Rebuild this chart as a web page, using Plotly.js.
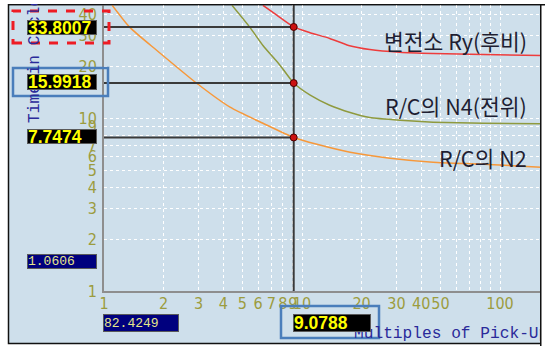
<!DOCTYPE html>
<html>
<head>
<meta charset="utf-8">
<script src="https://cdn.plot.ly/plotly-3.0.1.min.js"></script>
<style>
  html, body { margin: 0; padding: 0; background: #ffffff; }
  #chart { width: 545px; height: 346px; }
</style>
</head>
<body>
<div id="chart"></div>
<script>
// Time-current coordination: operating time (cycles) vs multiples of pick-up
const curveNames = ['변전소 Ry(후비)', 'R/C의 N4(전위)', 'R/C의 N2'];
const curveColors = ['#ee3c3c', '#8f9a3e', '#f7983a'];

const ryX = [6.35, 7.49, 9.0788, 10.9, 13.8, 17.2, 22.0, 31.2, 45.9, 82.1, 161];
const ryY = [45.1, 39.4, 33.8007, 31.4, 29.0, 26.4, 25.0, 24.1, 23.7, 23.4, 23.1];

const n4X = [4.43, 5.47, 6.35, 7.74, 9.0788, 11.0, 13.8, 17.5, 22.0, 31.3, 45.9, 82.1, 161];
const n4Y = [45.1, 33.5, 26.4, 20.3, 15.9918, 13.6, 11.9, 10.8, 10.1, 9.74, 9.5, 9.36, 9.3];

const n2X = [1.10, 1.35, 1.85, 2.95, 4.33, 6.35, 9.0788, 11.9, 17.5, 27.8, 45.9, 82.1, 161];
const n2Y = [45.1, 33.6, 24.7, 15.9, 11.6, 9.36, 7.7474, 7.07, 6.36, 5.87, 5.57, 5.42, 5.21];

// cursor read-outs
const pickMultiple = 9.0788;
const pickTimes = [33.8007, 15.9918, 7.7474];
const cursorTime = 1.0606;
const cursorMultiple = 82.4249;

const xTickVals = [1, 2, 3, 4, 5, 6, 7, 8, 9, 10, 20, 30, 40, 50, 60, 70, 80, 90, 100];
const xTickText = ['1', '2', '3', '4', '5', '6', '7', '8', '9', '10', '20', '30', '40', '50', '', '', '', '', '100'];
const yTickVals = [1, 2, 3, 4, 5, 6, 7, 8, 9, 10, 20, 30, 40];
const yTickText = ['1', '2', '3', '4', '5', '6', '7', '8', '9', '10', '20', '30', '40'];

const xAxisTitle = 'Multiples of Pick-Up';
const yAxisTitle = 'Time in Cycles';

// page geometry (pixels)
const W = 545, H = 346;
const M = { l: 104, r: 4, t: 5, b: 55 };
const PW = W - M.l - M.r, PH = H - M.t - M.b;
const px = v => (v - M.l) / PW;
const py = v => (H - M.b - v) / PH;

const X_MAX = 2.207, Y_MAX = 1.656;
const yTop = Math.pow(10, Y_MAX);

const traces = [];
const curves = [[ryX, ryY], [n4X, n4Y], [n2X, n2Y]];
curves.forEach((c, i) => {
  traces.push({
    x: c[0], y: c[1], type: 'scatter', mode: 'lines', name: curveNames[i],
    line: { color: curveColors[i], width: 1.5, shape: 'spline', smoothing: 0.6 },
    hoverinfo: 'skip'
  });
});

// cursor cross-hair
const cursorLine = { color: '#3a3a3a', width: 2 };
traces.push({ x: [pickMultiple, pickMultiple], y: [1, yTop], mode: 'lines', line: cursorLine, hoverinfo: 'skip' });
pickTimes.forEach(t => {
  traces.push({ x: [1, pickMultiple], y: [t, t], mode: 'lines', line: cursorLine, hoverinfo: 'skip' });
});
traces.push({
  x: pickTimes.map(() => pickMultiple), y: pickTimes, mode: 'markers',
  marker: { color: '#cc1111', size: 7, line: { color: '#4a0000', width: 1 } },
  hoverinfo: 'skip', cliponaxis: false
});

const tickFont = { family: 'Liberation Sans Narrow, DejaVu Sans Condensed, Liberation Sans, sans-serif', size: 16, color: '#9c9c3e' };
const gridStyle = { gridcolor: '#ffffff', gridwidth: 1, griddash: '3px,3px' };

const annotations = [];
function label(text, x, y, xa, ya, font, extra) {
  annotations.push(Object.assign({
    text: text, xref: 'paper', yref: 'paper', x: px(x), y: py(y),
    xanchor: xa, yanchor: ya, showarrow: false, font: font
  }, extra || {}));
}

const curveFont = { family: 'Noto Sans CJK KR, sans-serif', size: 21.5, color: '#1e1e32' };
label(curveNames[0], 529, 41, 'right', 'middle', curveFont);
label(curveNames[1], 529, 105, 'right', 'middle', curveFont);
label(curveNames[2], 529, 157, 'right', 'middle', curveFont);

const titleFont = { family: 'Liberation Mono, DejaVu Sans Mono, monospace', size: 16.2, color: '#2a2a9a' };
label(yAxisTitle, 35, 125, 'center', 'bottom', titleFont, { textangle: -90 });
label(xAxisTitle, 352, 334, 'left', 'middle', titleFont);

// read-out boxes
const boldFont = { family: 'Liberation Sans, Arial, sans-serif', size: 17.5, color: '#ffff00', weight: 'bold' };
const monoFont = { family: 'Liberation Mono, DejaVu Sans Mono, monospace', size: 13, color: '#e6e68a' };
function box(text, x0, y0, x1, y1, bg, font) {
  annotations.push({
    text: text, xref: 'paper', yref: 'paper', x: px(x0), y: py(y0),
    xanchor: 'left', yanchor: 'top', width: x1 - x0 - 2, height: y1 - y0 - 2,
    align: 'left', valign: 'middle', bgcolor: bg, bordercolor: '#5a5a5a',
    borderwidth: 1, borderpad: 0, showarrow: false, font: font
  });
}
box(pickTimes[0].toFixed(4), 27, 20, 97, 35, '#000000', boldFont);
box(pickTimes[1].toFixed(4), 27, 74, 97, 90, '#000000', boldFont);
box(pickTimes[2].toFixed(4), 27, 129, 97, 144, '#000000', boldFont);
box(cursorTime.toFixed(4), 27, 254, 97, 269, '#00007e', monoFont);
box(cursorMultiple.toFixed(4), 103, 314, 179, 332, '#00007e', monoFont);
box(pickMultiple.toFixed(4), 293, 314, 371, 332, '#000000', boldFont);

// white margins outside the frame (right one carries the frame's edge)
annotations.push({ text: '', xref: 'paper', yref: 'paper', x: px(-2), y: py(-2), xanchor: 'left', yanchor: 'top',
  width: W + 4, height: 5.5, bgcolor: '#ffffff', borderwidth: 0, borderpad: 0, showarrow: false });
annotations.push({ text: '', xref: 'paper', yref: 'paper', x: px(539.5), y: py(3.8), xanchor: 'left', yanchor: 'top',
  width: 12, height: 341, bgcolor: '#ffffff', bordercolor: '#111111', borderwidth: 1.5, borderpad: 0, showarrow: false });

const shapes = [
  { type: 'rect', xref: 'paper', yref: 'paper', layer: 'below',
    x0: px(8.5), x1: px(541), y0: py(343.5), y1: py(4.5),
    fillcolor: '#cedfeb', line: { color: '#111111', width: 1.5 } },
  { type: 'line', xref: 'paper', yref: 'paper', layer: 'above',
    x0: px(8.5), x1: px(541), y0: py(4.5), y1: py(4.5),
    line: { color: '#111111', width: 1.5 } },
  { type: 'rect', xref: 'paper', yref: 'paper', layer: 'above',
    x0: px(13), x1: px(109), y0: py(43), y1: py(11),
    line: { color: '#ee1c24', width: 3, dash: 'dash' } },
  { type: 'rect', xref: 'paper', yref: 'paper', layer: 'above',
    x0: px(13), x1: px(108), y0: py(96), y1: py(68),
    line: { color: '#4a7ebb', width: 2.5 } },
  { type: 'rect', xref: 'paper', yref: 'paper', layer: 'above',
    x0: px(281), x1: px(379), y0: py(338), y1: py(306),
    line: { color: '#4a7ebb', width: 2.5 } }
];

const layout = {
  width: W, height: H,
  margin: M,
  paper_bgcolor: '#ffffff',
  plot_bgcolor: 'rgba(0,0,0,0)',
  showlegend: false,
  xaxis: Object.assign({
    type: 'log', range: [0, X_MAX], tickmode: 'array', tickvals: xTickVals, ticktext: xTickText,
    tickangle: 0, ticks: '', tickfont: tickFont, ticklabelstandoff: -3,
    showline: true, linecolor: '#8e8e8e', linewidth: 2, zeroline: false, mirror: false
  }, gridStyle),
  yaxis: Object.assign({
    type: 'log', range: [0, Y_MAX], tickmode: 'array', tickvals: yTickVals, ticktext: yTickText,
    ticks: '', tickfont: tickFont, ticklabelstandoff: 2,
    showline: true, linecolor: '#8e8e8e', linewidth: 2, zeroline: false, mirror: false
  }, gridStyle),
  shapes: shapes,
  annotations: annotations
};

Plotly.newPlot('chart', traces, layout, { displayModeBar: false, staticPlot: true });
</script>
</body>
</html>
